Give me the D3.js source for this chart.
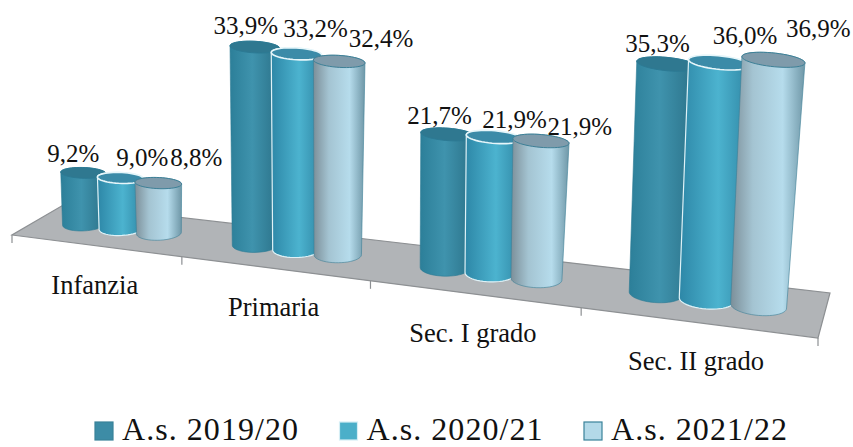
<!DOCTYPE html>
<html>
<head>
<style>
html, body { margin: 0; background: #fff; }
svg { display: block; }
text { font-family: "Liberation Serif", serif; fill: #111; }
</style>
</head>
<body>
<svg id="chart" width="853" height="447"></svg>
<script src="https://cdn.jsdelivr.net/npm/d3@7"></script>
<script>
var categories = ['Infanzia', 'Primaria', 'Sec. I grado', 'Sec. II grado'];
var seriesNames = ['A.s. 2019/20', 'A.s. 2020/21', 'A.s. 2021/22'];
var values2019 = [9.2, 33.9, 21.7, 35.3];
var values2020 = [9.0, 33.2, 21.9, 36.0];
var values2021 = [8.8, 32.4, 21.9, 36.9];
var allValues = [values2019, values2020, values2021];

// hand placed label nudges, the original chart had them moved around
var labelDx = [[-10, 22, 38], [-9, 19, 42], [-8, 21, 39], [-9, 26, 45]];
var labelDy = [[-11, -12, -17], [-13, -17, -14], [-10, -9, -6], [-12, -19, -23]];

// floor corners in page pixels: front left, front right, back right, back left
var floor = [[12, 235], [818, 338], [830, 293], [65, 204]];

// square -> quad homography
function homography(q) {
    var dx1 = q[1][0] - q[2][0], dx2 = q[3][0] - q[2][0];
    var dy1 = q[1][1] - q[2][1], dy2 = q[3][1] - q[2][1];
    var sx = q[0][0] - q[1][0] + q[2][0] - q[3][0];
    var sy = q[0][1] - q[1][1] + q[2][1] - q[3][1];
    var den = dx1 * dy2 - dx2 * dy1;
    var g = (sx * dy2 - dx2 * sy) / den;
    var h = (dx1 * sy - sx * dy1) / den;
    var a = q[1][0] - q[0][0] + g * q[1][0];
    var b = q[3][0] - q[0][0] + h * q[3][0];
    var d = q[1][1] - q[0][1] + g * q[1][1];
    var e = q[3][1] - q[0][1] + h * q[3][1];
    return function (t, u) {
        var w = g * t + h * u + 1;
        return { x: (a * t + b * u + q[0][0]) / w, y: (d * t + e * u + q[0][1]) / w, w: w };
    };
}
var plane = homography(floor);
var wRef = plane(0.5, 0.6).w;

var x0 = d3.scaleBand().domain(categories).range([0, 1]);
var x1 = d3.scalePoint().domain(seriesNames).range([-0.056, 0.056]);
var yPx = d3.scaleLinear().domain([0, 40]).range([0, 241]);
var depth = 0.52, radT = 0.0295, radU = 0.21;

var svg = d3.select('#chart');
var defs = svg.append('defs');

var bodyStops = [
    [[0, '#2c7f99'], [0.45, '#3f93ad'], [1, '#2a7087']],
    [[0, '#2d87a7'], [0.55, '#4cb3cf'], [1, '#2f86a4']],
    [[0, '#7c8f99'], [0.3, '#a4c4d2'], [0.7, '#b6dcec'], [1, '#6f97a7']]
];
var topFill = ['#2f7890', '#3b8ba8', '#7f9bab'];
var rimStroke = ['#2c7a94', '#e6f6fa', '#3d8097'];
var legendFill = ['#3d8ca6', '#4bafc9', '#b3d9e8'];

bodyStops.forEach(function (stops, i) {
    var g = defs.append('linearGradient').attr('id', 'body' + i);
    stops.forEach(function (s) {
        g.append('stop').attr('offset', s[0]).attr('stop-color', s[1]);
    });
});

var line = d3.line();

// floor
svg.append('path')
    .attr('d', line(floor) + 'Z')
    .attr('fill', '#b1b4b7')
    .attr('stroke', '#8d9093')
    .attr('stroke-width', 1.2);

// tick marks along the front edge
var tickPos = x0.domain().map(function (c) { return x0(c); }).concat([1]);
svg.selectAll('.tick').data(tickPos).enter().append('line')
    .attr('class', 'tick')
    .attr('x1', function (t) { return plane(t, 0).x; })
    .attr('x2', function (t) { return plane(t, 0).x; })
    .attr('y1', function (t) { return plane(t, 0).y; })
    .attr('y2', function (t) { return plane(t, 0).y + 8; })
    .attr('stroke', '#8d9093')
    .attr('stroke-width', 1.2);

function ring(tc, uc, h, growT, growU) {
    return d3.range(48).map(function (i) {
        var a = i / 48 * 2 * Math.PI;
        var p = plane(tc + radT * growT * Math.cos(a), uc + radU * growU * Math.sin(a));
        // verticals lean away from a point under the second group
        return [p.x + (p.x - 280) * h * 1.25e-4, p.y - h];
    });
}

categories.forEach(function (cat, ci) {
    seriesNames.forEach(function (name, si) {
        var value = allValues[si][ci];
        var tc = x0(cat) + x0.bandwidth() / 2 + x1(name);
        var c = plane(tc, depth);
        var h = yPx(value) * wRef / c.w;
        var base = ring(tc, depth, 0, 1, 1);
        var top = ring(tc, depth, h, 1.1, 0.72);
        var hull = d3.polygonHull(base.concat(top));

        svg.append('path')
            .attr('class', 'bar')
            .attr('d', line(hull) + 'Z')
            .attr('fill', 'url(#body' + si + ')')
            .attr('stroke', si === 1 ? '#dff2f7' : rimStroke[si])
            .attr('stroke-width', si === 1 ? 1.2 : 0.6);
        svg.append('path')
            .attr('class', 'cap')
            .attr('d', line(top) + 'Z')
            .attr('fill', topFill[si])
            .attr('stroke', rimStroke[si])
            .attr('stroke-width', si === 1 ? 1.6 : 1);

        svg.append('text')
            .attr('x', c.x + (c.x - 280) * h * 1.25e-4 + labelDx[ci][si])
            .attr('y', c.y - h + labelDy[ci][si])
            .attr('text-anchor', 'middle')
            .attr('font-size', 25)
            .text(value.toFixed(1).replace('.', ',') + '%');
    });
});

// category labels under the front edge
svg.selectAll('.cat').data(categories).enter().append('text')
    .attr('class', 'cat')
    .attr('x', function (d) { return plane(x0(d) + x0.bandwidth() / 2, 0).x; })
    .attr('y', function (d) { return plane(x0(d) + x0.bandwidth() / 2, 0).y + 48; })
    .attr('text-anchor', 'middle')
    .attr('font-size', 26.5)
    .text(function (d) { return d; });

// legend
var legendX = d3.scalePoint().domain(seriesNames).range([95, 584]);
var legend = svg.selectAll('.legend').data(seriesNames).enter().append('g')
    .attr('class', 'legend')
    .attr('transform', function (d) { return 'translate(' + legendX(d) + ',422)'; });
legend.append('rect')
    .attr('width', 18)
    .attr('height', 18)
    .attr('fill', function (d, i) { return legendFill[i]; })
    .attr('stroke', function (d, i) { return i === 1 ? '#d5eef5' : '#3a8299'; })
    .attr('stroke-width', 1.2);
legend.append('text')
    .attr('x', 27)
    .attr('y', 18)
    .attr('font-size', 32)
    .attr('letter-spacing', 1.05)
    .text(function (d) { return d; });
</script>
</body>
</html>
